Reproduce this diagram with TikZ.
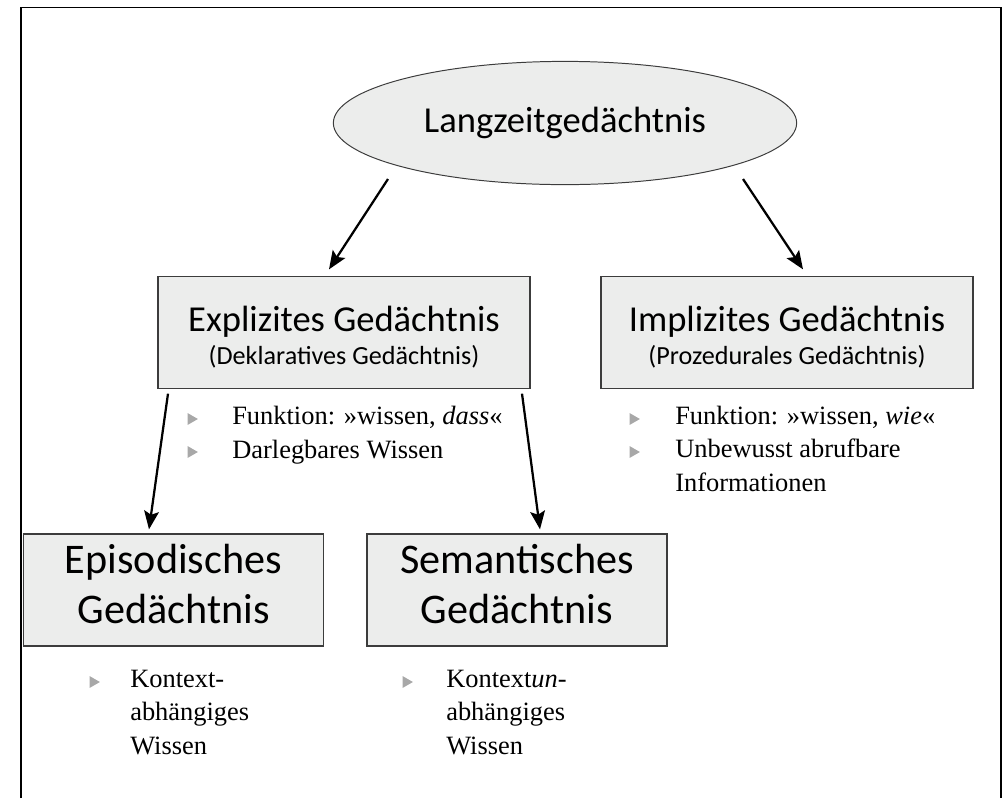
\documentclass[tikz,border=0pt]{standalone}
\usepackage{fontspec}
\setmainfont{Liberation Serif}
\newfontfamily\boxfont{Carlito}
\usetikzlibrary{shapes.geometric,arrows.meta,calc}
\definecolor{boxgray}{HTML}{ECEDEC}
\definecolor{edgegray}{HTML}{3C3C3C}
\definecolor{bulgray}{HTML}{A8A8A8}
\begin{document}
\begin{tikzpicture}[x=0.025cm, y=-0.025cm]
	\tikzstyle{memory} = [rectangle, draw=edgegray, line width=0.9pt, fill=boxgray, inner sep=0pt, minimum width=9.3cm, minimum height=2.8cm, text height=46pt, text depth=0pt, align=center, font=\boxfont\fontsize{26}{23.5}\selectfont]
	\tikzstyle{memsmall} = [memory, minimum width=7.5cm, text height=48pt, font=\boxfont\fontsize{30}{35.5}\selectfont]
	\tikzstyle{arrow} = [-{Stealth[length=13pt, width=10.5pt, inset=2.5pt]}, line width=1.6pt]
	\tikzstyle{bul} = [regular polygon, regular polygon sides=3, regular polygon rotate=-90, minimum size=9.8pt, inner sep=0pt, fill=bulgray]
	\tikzstyle{list} = [anchor=base west, align=left, inner sep=0pt, font=\fontsize{18.8}{23.5}\selectfont]
	\newcommand{\subtext}[1]{{\boxfont\fontsize{18.6}{23.5}\selectfont #1}}

	\useasboundingbox (0,0) rectangle (1006,798);
	\draw[line width=1pt] (21,798) -- (21,7.5) -- (1001,7.5) -- (1001,798);

	\node[ellipse, draw=edgegray, line width=0.7pt, fill=boxgray, inner sep=0pt, minimum width=11.58cm, minimum height=3.08cm, font=\boxfont\fontsize{26}{30}\selectfont] (lzg) at (565, 123) {Langzeitgedächtnis};

	\node[memory] (expl) at (344, 332.5) {Explizites Gedächtnis\\\subtext{(Deklaratives Gedächtnis)}};
	\node[memory] (impl) at (787, 332.5) {Implizites Gedächtnis\\\subtext{(Prozedurales Gedächtnis)}};
	\node[memsmall] (epi) at (173.5, 590) {Episodisches\\Gedächtnis};
	\node[memsmall] (sem) at (517, 590) {Semantisches\\Gedächtnis};

	% arrows
	\draw[arrow] ($(lzg)+(-177,56)$) -- ($(expl.north)+(-15,-6.5)$);
	\draw[arrow] ($(lzg)+(178,56)$) -- ($(impl.north)+(16,-6.5)$);
	\draw[arrow] ($(expl.south)+(-176,4.5)$) -- ($(epi.north)+(-24.5,-4)$);
	\draw[arrow] ($(expl.south)+(178,4.5)$) -- ($(sem.north)+(23,-4)$);

	% bullet lists (base = last line)
	\node[list] (explList) at (232, 458) {Funktion: »wissen, \textit{dass}«\\Darlegbares Wissen};
	\node[list] (implList) at (675, 491) {Funktion: »wissen, \textit{wie}«\\Unbewusst abrufbare\\Informationen};
	\node[list] (epiList) at (130, 754) {Kontext-\\abhängiges\\Wissen};
	\node[list] (semList) at (446, 754) {Kontext\textit{un}-\\abhängiges\\Wissen};

	\foreach \name/\x/\y in {b1/191/419, b2/191/452, b3/633/419, b4/633/452, b5/93/682, b6/406/682}
		\node[bul] (\name) at (\x, \y) {};
\end{tikzpicture}
\end{document}
